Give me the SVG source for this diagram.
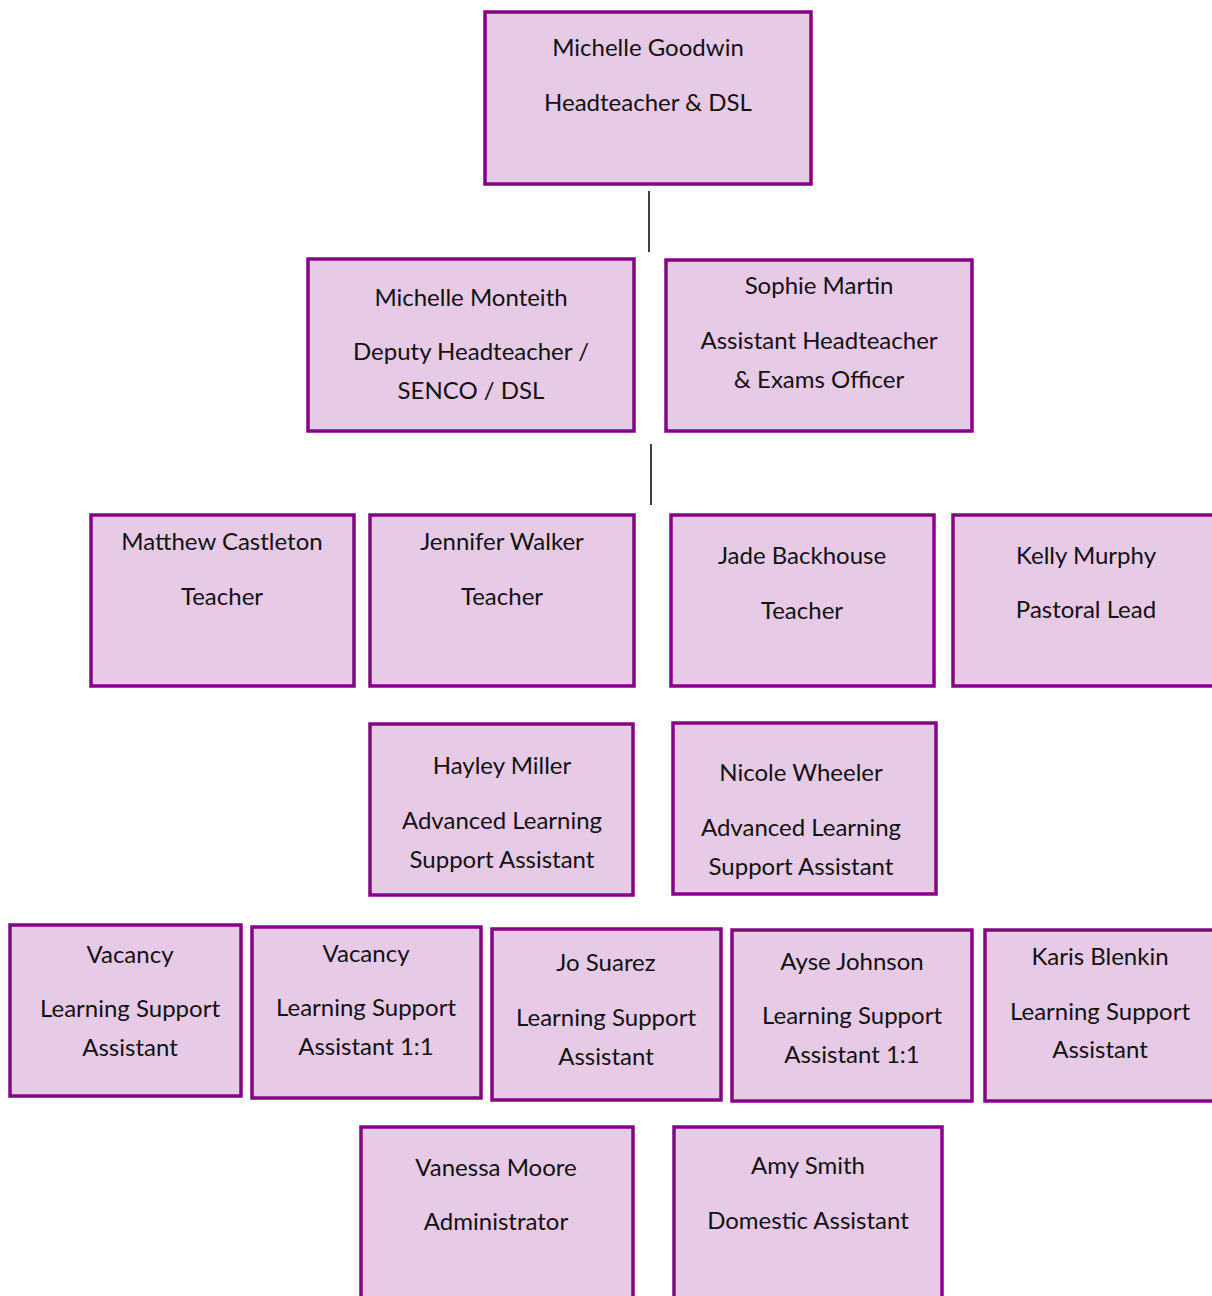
<svg xmlns="http://www.w3.org/2000/svg" width="1212" height="1296" viewBox="0 0 1212 1296">
<style>
.box{fill:#E6CAE6;stroke:#850485;stroke-width:3.5}
.t{font-family:Lato,"Liberation Sans",sans-serif;font-size:24px;fill:#111;text-anchor:middle}
.c{stroke:#000;stroke-width:1.5}
</style>
<rect width="1212" height="1296" fill="#fff"/>
<g id="connectors">
<line class="c" x1="649" y1="191" x2="649" y2="252"/>
<line class="c" x1="651" y1="444" x2="651" y2="505"/>
</g>
<g id="goodwin"><rect class="box" x="485" y="12" width="326" height="172"/><text class="t" x="648" y="56">Michelle Goodwin</text><text class="t" x="648" y="111">Headteacher &amp; DSL</text></g>
<g id="monteith"><rect class="box" x="308" y="259" width="326" height="172"/><text class="t" x="471" y="306">Michelle Monteith</text><text class="t" x="471" y="360">Deputy Headteacher /</text><text class="t" x="471" y="399">SENCO / DSL</text></g>
<g id="martin"><rect class="box" x="666" y="260" width="306" height="171"/><text class="t" x="819" y="294">Sophie Martin</text><text class="t" x="819" y="349">Assistant Headteacher</text><text class="t" x="819" y="388">&amp; Exams Officer</text></g>
<g id="castleton"><rect class="box" x="91" y="515" width="263" height="171"/><text class="t" x="222" y="550">Matthew Castleton</text><text class="t" x="222" y="605">Teacher</text></g>
<g id="walker"><rect class="box" x="370" y="515" width="264" height="171"/><text class="t" x="502" y="550">Jennifer Walker</text><text class="t" x="502" y="605">Teacher</text></g>
<g id="backhouse"><rect class="box" x="671" y="515" width="263" height="171"/><text class="t" x="802" y="564">Jade Backhouse</text><text class="t" x="802" y="619">Teacher</text></g>
<g id="murphy"><rect class="box" x="953" y="515" width="264" height="171"/><text class="t" x="1086" y="564">Kelly Murphy</text><text class="t" x="1086" y="618">Pastoral Lead</text></g>
<g id="miller"><rect class="box" x="370" y="724" width="263" height="171"/><text class="t" x="502" y="774">Hayley Miller</text><text class="t" x="502" y="829">Advanced Learning</text><text class="t" x="502" y="868">Support Assistant</text></g>
<g id="wheeler"><rect class="box" x="673" y="723" width="263" height="171"/><text class="t" x="801" y="781">Nicole Wheeler</text><text class="t" x="801" y="836">Advanced Learning</text><text class="t" x="801" y="875">Support Assistant</text></g>
<g id="vacancy1"><rect class="box" x="10" y="925" width="231" height="171"/><text class="t" x="130" y="963">Vacancy</text><text class="t" x="130" y="1017">Learning Support</text><text class="t" x="130" y="1056">Assistant</text></g>
<g id="vacancy2"><rect class="box" x="252" y="927" width="229" height="171"/><text class="t" x="366" y="962">Vacancy</text><text class="t" x="366" y="1016">Learning Support</text><text class="t" x="366" y="1055">Assistant 1:1</text></g>
<g id="suarez"><rect class="box" x="492" y="929" width="229" height="171"/><text class="t" x="606" y="971">Jo Suarez</text><text class="t" x="606" y="1026">Learning Support</text><text class="t" x="606" y="1065">Assistant</text></g>
<g id="johnson"><rect class="box" x="732" y="930" width="240" height="171"/><text class="t" x="852" y="970">Ayse Johnson</text><text class="t" x="852" y="1024">Learning Support</text><text class="t" x="852" y="1063">Assistant 1:1</text></g>
<g id="blenkin"><rect class="box" x="985" y="930" width="232" height="171"/><text class="t" x="1100" y="965">Karis Blenkin</text><text class="t" x="1100" y="1020">Learning Support</text><text class="t" x="1100" y="1058">Assistant</text></g>
<g id="moore"><rect class="box" x="361" y="1127" width="272" height="175"/><text class="t" x="496" y="1176">Vanessa Moore</text><text class="t" x="496" y="1230">Administrator</text></g>
<g id="smith"><rect class="box" x="674" y="1127" width="268" height="175"/><text class="t" x="808" y="1174">Amy Smith</text><text class="t" x="808" y="1229">Domestic Assistant</text></g>
</svg>
